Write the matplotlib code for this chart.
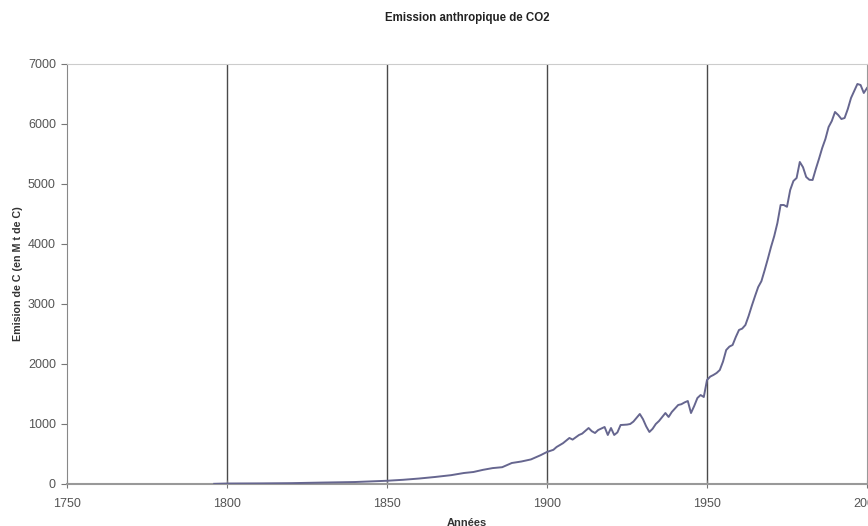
import matplotlib
matplotlib.use("Agg")
import matplotlib.pyplot as plt

# Données (émissions en M t de C)
years = [1796, 1800, 1810, 1820, 1830, 1840, 1850, 1855, 1860, 1865, 1870, 1874,
         1877, 1880, 1883, 1886, 1889, 1892, 1895, 1898, 1900, 1902, 1903, 1905,
         1907, 1908, 1910, 1911, 1913, 1914, 1915, 1916, 1918, 1919, 1920, 1921,
         1922, 1923, 1925, 1926, 1927, 1929, 1930, 1931, 1932, 1933, 1934, 1935,
         1937, 1938, 1939, 1941, 1942, 1943, 1944, 1945, 1946, 1947, 1948, 1949,
         1950, 1951, 1952, 1953, 1954, 1955, 1956, 1957, 1958, 1959, 1960, 1961,
         1962, 1963, 1964, 1965, 1966, 1967, 1968, 1969, 1970, 1971, 1972, 1973,
         1974, 1975, 1976, 1977, 1978, 1979, 1980, 1981, 1982, 1983, 1984, 1985,
         1986, 1987, 1988, 1989, 1990, 1991, 1992, 1993, 1994, 1995, 1996, 1997,
         1998, 1999, 2000]
emissions = [3, 8, 10, 14, 24, 33, 54, 70, 91, 117, 147, 183,
             200, 236, 265, 280, 350, 375, 410, 480, 534, 570, 617, 680,
             767, 740, 817, 840, 933, 880, 850, 900, 950, 817, 933, 817,
             860, 983, 990, 1000, 1040, 1167, 1080, 960, 867, 920, 1000, 1050,
             1183, 1117, 1200, 1317, 1330, 1360, 1383, 1183, 1300, 1433, 1483, 1450,
             1733, 1790, 1817, 1850, 1900, 2040, 2233, 2290, 2317, 2450, 2567, 2590,
             2650, 2800, 2970, 3130, 3283, 3380, 3560, 3750, 3950, 4130, 4350, 4650,
             4650, 4620, 4900, 5050, 5100, 5367, 5280, 5117, 5070, 5067, 5250, 5420,
             5600, 5750, 5950, 6050, 6200, 6150, 6083, 6100, 6250, 6433, 6550, 6667,
             6650, 6517, 6600]

x_ticks = [1750, 1800, 1850, 1900, 1950, 2000]
y_ticks = [0, 1000, 2000, 3000, 4000, 5000, 6000, 7000]

plt.rcParams['font.family'] = ['Liberation Sans', 'DejaVu Sans']

fig = plt.figure(figsize=(8.68, 5.26), dpi=100)
ax = fig.add_axes([67 / 868, 42 / 526, 800 / 868, 420 / 526])

ax.plot(years, emissions, color='#66668f', linewidth=1.4, zorder=3,
        solid_joinstyle='round')

ax.set_xlim(1750, 2000)
ax.set_ylim(0, 7000)
ax.set_xticks(x_ticks)
ax.set_yticks(y_ticks)

# lignes verticales de la grille
for xv in x_ticks[1:-1]:
    ax.axvline(xv, color='#4a4a4a', linewidth=1.0, zorder=1)

ax.tick_params(axis='both', labelsize=9, labelcolor='#555555', color='#777777')
ax.tick_params(axis='x', direction='inout', length=6, pad=7)
ax.tick_params(axis='y', direction='out', length=4, pad=4)

ax.spines['left'].set_color('#888888')
ax.spines['bottom'].set_color('#999999')
ax.spines['bottom'].set_linewidth(1.5)
ax.spines['top'].set_color('#cccccc')
ax.spines['right'].set_color('#999999')

fig.text(467 / 868, 1 - 18 / 526, "Emission anthropique de CO2", ha='center',
         va='center', fontsize=8.3, fontweight='bold', color='#222222')
fig.text(18 / 868, 1 - 274 / 526, "Emision de C (en M t de C)", ha='center',
         va='center', rotation=90, fontsize=7.7, fontweight='bold', color='#333333')
fig.text(467 / 868, 1 - 523 / 526, "Années", ha='center', va='center',
         fontsize=8, fontweight='bold', color='#333333')

fig.savefig("out.png", dpi=100)
